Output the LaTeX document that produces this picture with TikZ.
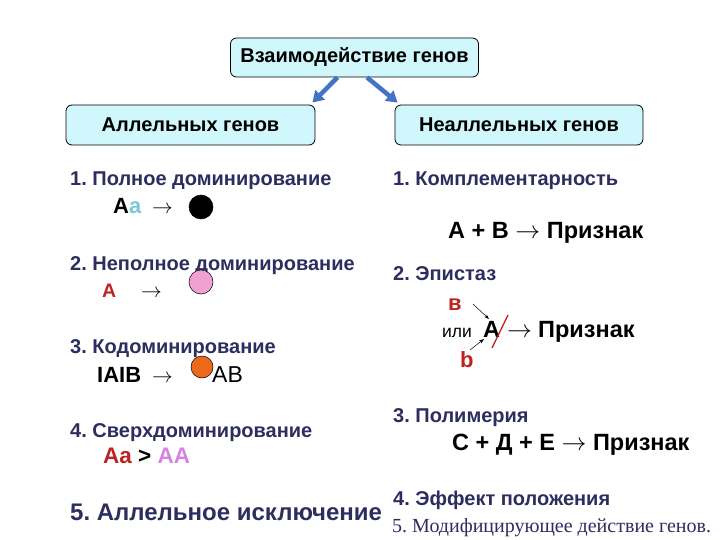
\documentclass[tikz,border=0pt]{standalone}
\usepackage{fontspec}
\setmainfont{Liberation Sans}
\newfontfamily\serifru{Liberation Serif}
\usetikzlibrary{arrows.meta,calc}
\definecolor{navy}{RGB}{45,45,95}
\definecolor{boxfill}{RGB}{208,248,252}
\definecolor{arrblue}{RGB}{68,114,196}
\definecolor{aqua}{RGB}{120,200,215}
\definecolor{dred}{RGB}{190,35,35}
\definecolor{violet2}{RGB}{215,130,225}
\definecolor{pinkc}{RGB}{240,160,210}
\definecolor{orangec}{RGB}{235,105,25}
\frenchspacing
\begin{document}
\begin{tikzpicture}[x=1pt,y=-1pt,
  hbox/.style={draw=black, line width=0.8pt, fill=boxfill, rounded corners=6pt,
    minimum width=248pt, minimum height=39pt, inner sep=0pt,
    font=\fontsize{20}{23}\selectfont\bfseries},
  head/.style={anchor=base west, inner sep=0pt, text=navy,
    font=\fontsize{20}{23}\selectfont\bfseries},
  form/.style={anchor=base west, inner sep=0pt, font=\fontsize{22}{25}\selectfont\bfseries},
  big/.style={anchor=base west, inner sep=0pt, font=\fontsize{23.5}{26}\selectfont\bfseries},
  dot/.style={circle, draw=black, line width=0.5pt, inner sep=0pt},
  barrow/.style={draw=arrblue, line width=4.5pt, -{Triangle[width=13pt,length=11pt]}},
  thinarrow/.style={draw=black, line width=0.5pt, -{Stealth[length=5pt,width=3.5pt]}}
]
\useasboundingbox[fill=white] (0,0) rectangle (720,540);

% boxes
\node[hbox] (top) at (354.5,57.5) {Взаимодействие генов};
\node[hbox, minimum width=249pt, minimum height=40pt] (allel) at (190.5,125) {Аллельных генов};
\node[hbox, minimum width=248pt, minimum height=40pt] (nonallel) at (519,125) {Неаллельных генов};
\draw[barrow] ([xshift=-17pt]top.south) -- ([xshift=-3pt,yshift=2pt]allel.north east);
\draw[barrow] ([xshift=12.5pt]top.south) -- ([xshift=3pt,yshift=2pt]nonallel.north west);

% left column
\node[head] (h1) at (70,186) {1. Полное доминирование};
\node[form] (f1) at (113,214) {A{\color{aqua}a}};
\node[form] (f1a) at (152,214) {$\rightarrow$};
\node[dot, fill=black, minimum size=24pt] (c1) at (201,207) {};
\node[head] (h2) at (70,270) {2. Неполное доминирование};
\node[form, text=dred, font=\fontsize{19.5}{22}\selectfont\bfseries] (f2) at (102,297) {A};
\node[form] (f2a) at (141,297) {$\rightarrow$};
\node[dot, fill=pinkc, minimum size=24pt] (c2) at (201,282) {};
\node[head] (h3) at (70,353) {3. Кодоминирование};
\node[form] (f3) at (97,382) {IAIB};
\node[form] (f3a) at (152,382) {$\rightarrow$};
\node[dot, fill=orangec, minimum size=22pt] (c3) at (202,367) {};
\node[anchor=base west, inner sep=0pt, font=\fontsize{23}{26}\selectfont] (ab) at (212,382) {AB};
\node[head] (h4) at (70,437) {4. Сверхдоминирование};
\node[form, font=\fontsize{22.5}{25}\selectfont\bfseries] (f4) at (103,463) {{\color{dred}Aa} > {\color{violet2}AA}};
\node[head, font=\fontsize{24}{28}\selectfont\bfseries] (h5) at (70,520) {5. Аллельное исключение};

% right column
\node[head] (r1) at (393,186) {1. Комплементарность};
\node[big] (rf1) at (448,238) {A + B $\rightarrow$ Признак};
\node[head] (r2) at (393,280) {2. Эпистаз};
\node[big, text=dred, font=\fontsize{22}{26}\selectfont\bfseries] (vb) at (448,310) {в};
\node[anchor=base west, inner sep=0pt, font=\fontsize{17.5}{20}\selectfont] (ili) at (442,337) {или};
\node[big] (aep) at (483,337) {A};
\node[big] (arr) at (507,337) {$\rightarrow$};
\node[big] (pr) at (538,337) {Признак};
\node[big, text=dred, font=\fontsize{22}{26}\selectfont\bfseries] (sb) at (460,367) {b};
\coordinate (s1a) at (473,304);
\coordinate (s1b) at (489,319);
\coordinate (s2a) at (470,350);
\coordinate (s2b) at (484,339);
\draw[thinarrow] (s1a) -- (s1b);
\draw[thinarrow] (s2a) -- (s2b);
\coordinate (sl1) at (492,348);
\coordinate (sl2) at (508,315);
\draw[dred, line width=1.3pt] (sl1) -- (sl2);
\node[head] (r3) at (393,422) {3. Полимерия};
\node[big] (rf3) at (452,450) {С + Д + Е $\rightarrow$ Признак};
\node[head] (r4) at (393,505) {4. Эффект положения};
\node[anchor=base west, inner sep=0pt, text=navy, font=\serifru\fontsize{20}{23}\selectfont] (r5) at (392,532) {5. Модифицирующее действие генов.};
\end{tikzpicture}
\end{document}
